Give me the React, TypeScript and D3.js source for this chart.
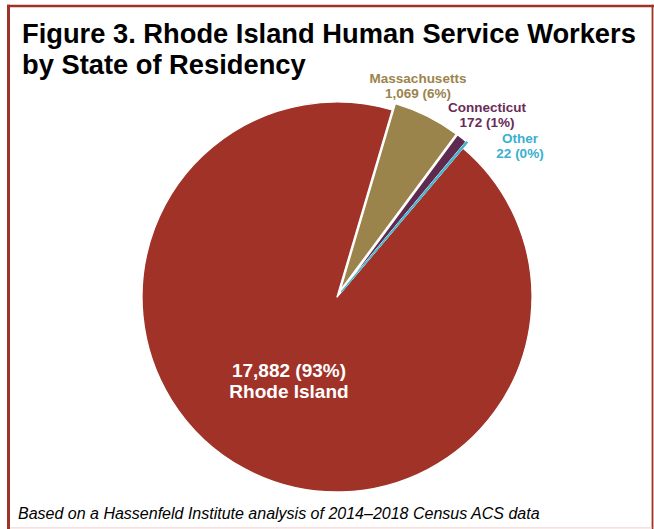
import React from "react";
import * as d3 from "d3";

const categories = ["Rhode Island", "Massachusetts", "Connecticut", "Other"];
const values = [17882, 1069, 172, 22];
const percents = ["93%", "6%", "1%", "0%"];
const sliceColors = ["#A13228", "#9B844C", "#5E2A4E", "#40B4D2"];
const labelColors = ["#FFFFFF", "#9B844C", "#6A2B58", "#3AAFCF"];
const explode = [0, 7, 7, 7];
const titleLines = ["Figure 3. Rhode Island Human Service Workers", "by State of Residency"];
const footer = "Based on a Hassenfeld Institute analysis of 2014\u20132018 Census ACS data";

const W = 654;
const H = 529;
const cx = 337;
const cy = 297;
const R = 195;
const startDeg = 40.2;

// label anchor positions (centre x, baseline y of first line)
const labelPos: [number, number][] = [
  [289, 377],
  [418, 83],
  [487, 112],
  [520, 143],
];
const labelSizes = [19, 13.5, 13.5, 13.5];
const labelGaps = [21, 15, 15, 15];

export default function App() {
  const pie = d3
    .pie<number>()
    .sort(null)
    .startAngle((startDeg * Math.PI) / 180)
    .endAngle((startDeg * Math.PI) / 180 + 2 * Math.PI);
  const arcs = pie(values);
  const arc = d3.arc<d3.PieArcDatum<number>>().innerRadius(0).outerRadius(R);
  const fmt = d3.format(",");

  return (
    <svg
      width={W}
      height={H}
      style={{ position: "absolute", left: 0, top: 0, background: "#fff" }}
      fontFamily="'Liberation Sans', Arial, sans-serif"
    >
      <rect x={0} y={0} width={W} height={H} fill="#fff" />
      {/* frame */}
      <line x1={7} y1={6} x2={654} y2={6} stroke="#9E3327" strokeWidth={2.6} />
      <line x1={8.5} y1={4.7} x2={8.5} y2={529} stroke="#9E3327" strokeWidth={3} />
      <line x1={652.5} y1={4.7} x2={652.5} y2={529} stroke="#9E3327" strokeWidth={1.8} />
      <line x1={10} y1={527.8} x2={652} y2={527.8} stroke="#F2D9D6" strokeWidth={1.2} />

      {/* title */}
      {titleLines.map((t, i) => (
        <text
          key={i}
          x={22}
          y={43 + i * 31}
          fontSize={27.3}
          fontWeight="bold"
          fill="#000"
        >
          {t}
        </text>
      ))}

      {/* pie */}
      <g transform={`translate(${cx},${cy})`}>
        {arcs.map((a, i) => {
          const mid = (a.startAngle + a.endAngle) / 2;
          const dx = explode[i] * Math.sin(mid);
          const dy = -explode[i] * Math.cos(mid);
          return (
            <path
              key={i}
              d={arc(a) || ""}
              transform={`translate(${dx},${dy})`}
              fill={sliceColors[i]}
              stroke="#fff"
              strokeWidth={1.3}
              strokeLinejoin="round"
            />
          );
        })}
        {arcs.slice(3).map((a, k) => {
          const i = k + 3;
          const mid = (a.startAngle + a.endAngle) / 2;
          const dx = explode[i] * Math.sin(mid);
          const dy = -explode[i] * Math.cos(mid);
          return (
            <path
              key={"o" + i}
              d={arc(a) || ""}
              transform={`translate(${dx},${dy})`}
              fill={sliceColors[i]}
              stroke={sliceColors[i]}
              strokeWidth={1.2}
              strokeLinejoin="round"
            />
          );
        })}
      </g>

      {/* labels */}
      {categories.map((c, i) => {
        const [lx, ly] = labelPos[i];
        const valueLine = `${fmt(values[i])} (${percents[i]})`;
        const lines = i === 0 ? [valueLine, c] : [c, valueLine];
        return (
          <text
            key={i}
            textAnchor="middle"
            fontWeight="bold"
            fontSize={labelSizes[i]}
            fill={labelColors[i]}
          >
            {lines.map((l, j) => (
              <tspan key={j} x={lx} y={ly + j * labelGaps[i]}>
                {l}
              </tspan>
            ))}
          </text>
        );
      })}

      {/* footer */}
      <text x={18} y={519} fontSize={16} fontStyle="italic" fill="#000">
        {footer}
      </text>
    </svg>
  );
}
